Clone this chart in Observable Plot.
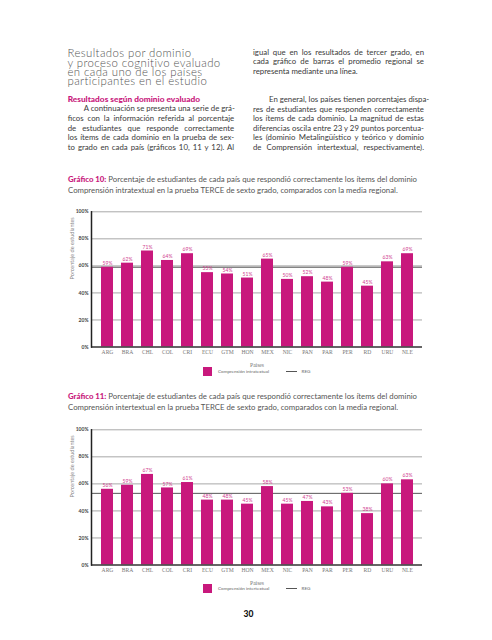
<!DOCTYPE html>
<html><head><meta charset="utf-8">
<script src="https://cdn.jsdelivr.net/npm/d3@7"></script>
<script src="https://cdn.jsdelivr.net/npm/@observablehq/plot@0.6"></script>
<style>
body{margin:0;background:#fff;}
#page{position:relative;width:492px;height:640px;overflow:hidden;font-family:Lato,"Open Sans",sans-serif;color:#3a3a3a;background:#fff;}
.abs{position:absolute;}
.title{left:67.5px;top:48.3px;font-weight:300;font-size:11.4px;letter-spacing:0.4px;line-height:9.35px;color:#555;white-space:nowrap;}
.col{font-size:7.8px;line-height:9.55px;}
.col div{height:9.55px;text-align:justify;text-align-last:justify;white-space:nowrap;}
.col div.last{text-align-last:left;}
.ind{text-indent:16px;}
.sub{color:#c8187c;font-weight:900;font-size:8.3px;text-align-last:left !important;}
.cap{left:68px;font-size:7.8px;line-height:11px;color:#555;white-space:nowrap;}
.cap b{color:#c8187c;font-weight:900;}
.leg{font-size:4.6px;color:#666;white-space:nowrap;}
.sw{width:9px;height:9px;background:#c8187c;}
.ln{width:11px;height:1px;background:#555;}
.pn{font-weight:900;font-size:8.5px;color:#111;}
</style></head>
<body><div id="page">
<div class="abs title">Resultados por dominio<br>y proceso cognitivo evaluado<br>en cada uno de los países<br>participantes en el estudio</div>
<div class="abs col" style="left:67.7px;top:94.9px;width:166.5px;">
<div class="sub">Resultados según dominio evaluado</div>
<div class="ind">A continuación se presenta una serie de grá-</div>
<div>ficos con la información referida al porcentaje</div>
<div>de estudiantes que responde correctamente</div>
<div>los ítems de cada dominio en la prueba de sex-</div>
<div>to grado en cada país (gráficos 10, 11 y 12). Al</div>
</div>
<div class="abs col" style="left:253px;top:47.5px;width:171px;">
<div>igual que en los resultados de tercer grado, en</div>
<div>cada gráfico de barras el promedio regional se</div>
<div class="last">representa mediante una línea.</div>
<div class="last"></div>
<div class="last"></div>
<div class="ind">En general, los países tienen porcentajes dispa-</div>
<div>res de estudiantes que responden correctamente</div>
<div>los ítems de cada dominio. La magnitud de estas</div>
<div>diferencias oscila entre 23 y 29 puntos porcentua-</div>
<div>les (dominio Metalingüístico y teórico y dominio</div>
<div>de Comprensión intertextual, respectivamente).</div>
</div>
<div class="abs cap" style="top:173.5px;"><b>Gráfico 10:</b> Porcentaje de estudiantes de cada país que respondió correctamente los ítems del dominio<br>Comprensión intratextual en la prueba TERCE de sexto grado, comparados con la media regional.</div>
<div class="abs" id="c1" style="left:40px;top:200px;"></div>
<div class="abs sw" style="left:203px;top:366.7px;"></div>
<div class="abs leg" style="left:218px;top:368px;">Comprensión intratextual</div>
<div class="abs ln" style="left:286px;top:371px;"></div>
<div class="abs leg" style="left:301.5px;top:368px;">REG</div>
<div class="abs cap" style="top:390.8px;"><b>Gráfico 11:</b> Porcentaje de estudiantes de cada país que respondió correctamente los ítems del dominio<br>Comprensión intertextual en la prueba TERCE de sexto grado, comparados con la media regional.</div>
<div class="abs" id="c2" style="left:40px;top:417.7px;"></div>
<div class="abs sw" style="left:203px;top:584px;"></div>
<div class="abs leg" style="left:218px;top:585.3px;">Comprensión intertextual</div>
<div class="abs ln" style="left:286px;top:588.3px;"></div>
<div class="abs leg" style="left:301.5px;top:585.3px;">REG</div>
<div class="abs pn" style="left:243.5px;top:609px;">30</div>
</div>
<script>
const countries = ["ARG","BRA","CHL","COL","CRI","ECU","GTM","HON","MEX","NIC","PAN","PAR","PER","RD","URU","NLE"];
const intratextual = [59,62,71,64,69,55,54,51,65,50,52,48,59,45,63,69];
const intertextual = [56,59,67,57,61,48,48,45,58,45,47,43,53,38,60,63];
const regIntra = 59;
const regInter = 53;
const yTicks = [0,20,40,60,80,100];
const barColor = "#c8187c";

function chart(values, reg) {
  const data = countries.map((c, i) => ({country: c, value: values[i]}));
  return Plot.plot({
    width: 400, height: 180,
    marginLeft: 51, marginRight: 18, marginTop: 11.3, marginBottom: 33.5,
    style: {fontFamily: "Lato, sans-serif", background: "transparent", overflow: "visible"},
    x: {domain: countries, paddingInner: 0.42, paddingOuter: 0.21, label: null},
    y: {domain: [0, 100], label: null},
    marks: [
      Plot.ruleY(yTicks.slice(1), {stroke: "#a8a8a8", strokeWidth: 1}),
      Plot.ruleY([reg], {stroke: "#555", strokeWidth: 1}),
      Plot.barY(data, {x: "country", y: "value", fill: barColor}),
      Plot.text(data, {x: "country", y: "value", text: d => d.value + "%", dy: -4, fill: "#d0418f", fontSize: 5}),
      Plot.axisY({ticks: yTicks, tickFormat: d => d + "%", tickSize: 0, tickPadding: 3, fontSize: 5, fontWeight: "bold", color: "#444", label: null}),
      Plot.axisX({tickSize: 0, tickPadding: 3.5, fontSize: 5.6, fontFamily: "Liberation Serif", color: "#777", label: "Países", labelAnchor: "center", labelArrow: "none", labelOffset: 20}),
      Plot.text(["Porcentaje de estudiantes"], {frameAnchor: "left", rotate: -90, dx: -19, fontSize: 5.5, fill: "#888"}),
      Plot.ruleY([0], {stroke: "#333", strokeWidth: 1.5}),
      Plot.frame({anchor: "left", stroke: "#222", strokeWidth: 1.5})
    ]
  });
}
document.getElementById("c1").appendChild(chart(intratextual, regIntra));
document.getElementById("c2").appendChild(chart(intertextual, regInter));
</script>
</body></html>
